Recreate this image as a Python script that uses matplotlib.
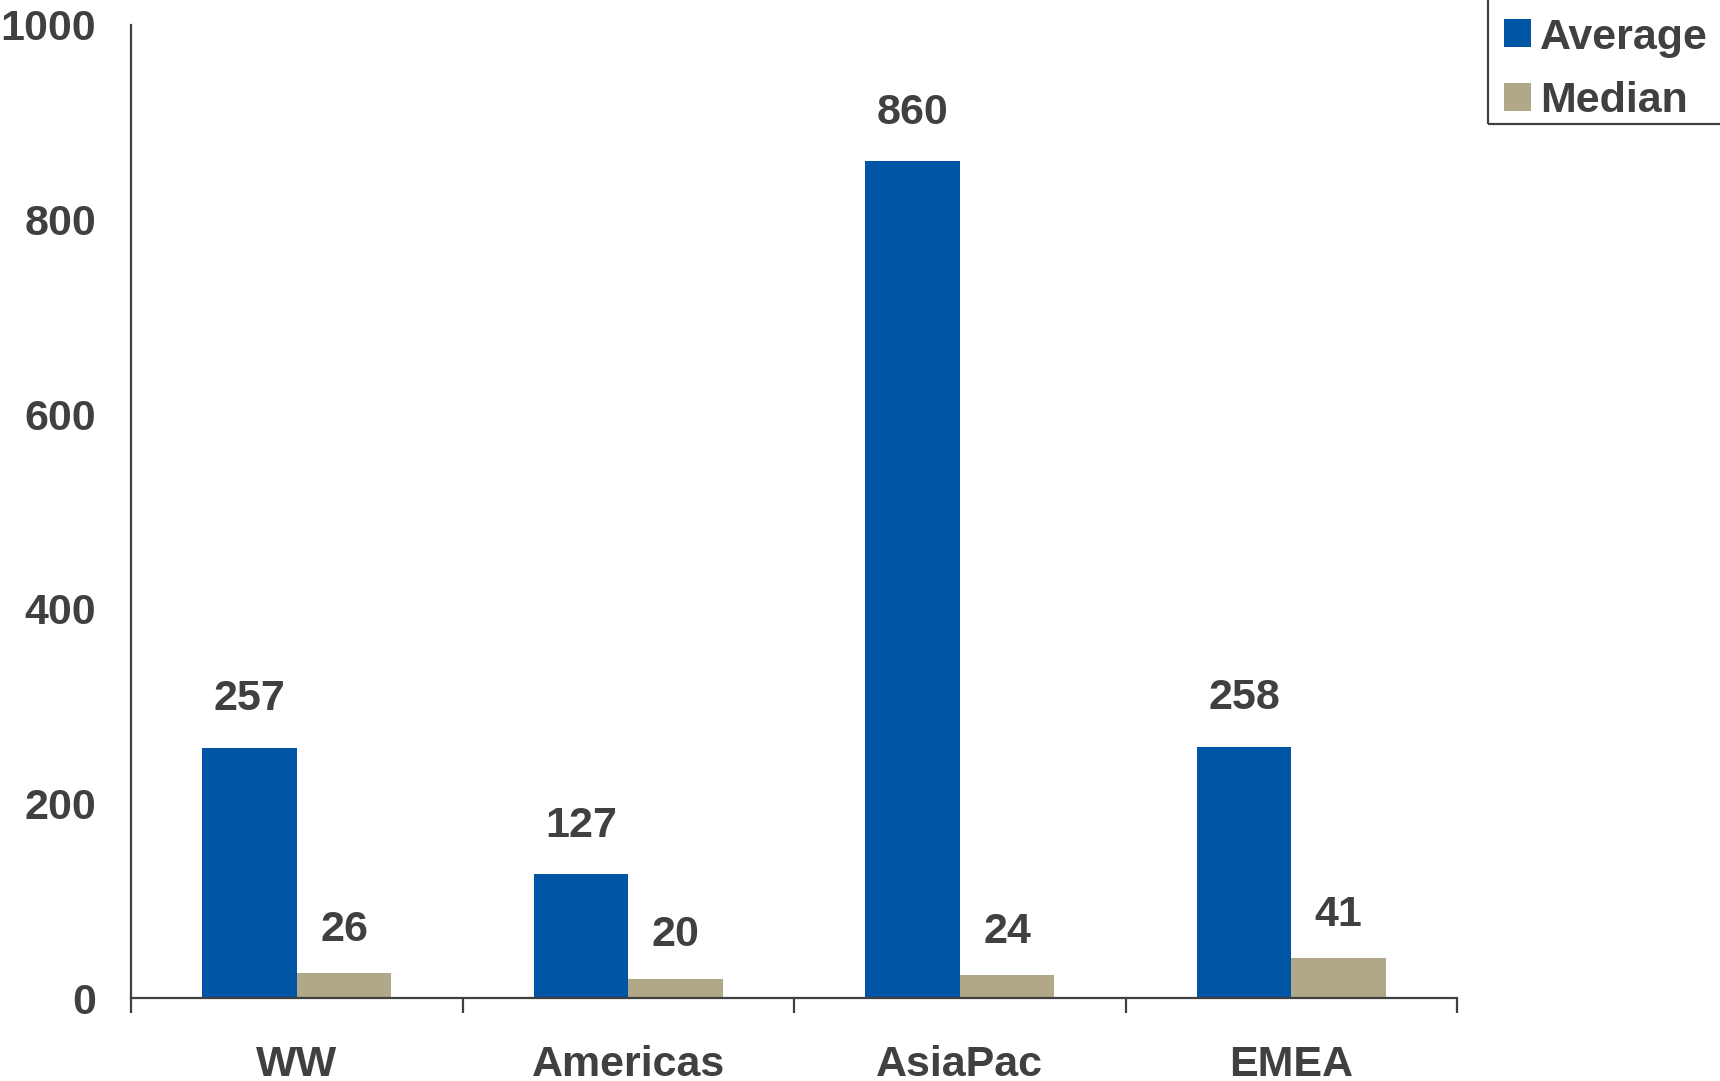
import numpy as np
import matplotlib.pyplot as plt
from matplotlib.patches import Rectangle
from matplotlib.ticker import FixedLocator

plt.rcParams['font.family'] = 'Liberation Sans'
plt.rcParams['font.weight'] = 'bold'

regions = ["WW", "Americas", "AsiaPac", "EMEA"]
average = [257, 127, 860, 258]
median = [26, 20, 24, 41]

blue = "#0055A5"
tan = "#B1A889"
dark = "#404040"
W, H = 1720, 1081

fig = plt.figure(figsize=(W / 100, H / 100), dpi=100)
ax = fig.add_axes([131 / W, 1 - 998 / H, (1457 - 131) / W, (998 - 25) / H])

x = np.arange(len(regions))
bw = 0.285
b1 = ax.bar(x - bw / 2, average, bw, color=blue, label="Average")
b2 = ax.bar(x + bw / 2, median, bw, color=tan, label="Median")

for bars, vals, off in ((b1, average, 35), (b2, median, 31)):
    for r, v in zip(bars, vals):
        ax.annotate(f"{v}", (r.get_x() + r.get_width() / 2, v),
                    xytext=(0, off), textcoords="offset points",
                    ha="center", va="center", fontsize=31,
                    fontweight="bold", color=dark)

ax.set_xlim(-0.5, len(regions) - 0.5)
ax.set_ylim(0, 1000)
ax.set_yticks(np.arange(0, 1001, 200))
ax.set_xticks(x)
ax.set_xticklabels(regions)
ax.xaxis.set_minor_locator(FixedLocator(np.arange(-0.5, len(regions), 1)))

ax.tick_params(axis="x", which="major", length=0, pad=34, labelsize=31,
               labelcolor=dark)
ax.tick_params(axis="x", which="minor", length=11, width=1.6, color=dark,
               direction="out")
ax.tick_params(axis="y", length=0, pad=25, labelsize=31, labelcolor=dark)
for lab in ax.get_xticklabels() + ax.get_yticklabels():
    lab.set_fontweight("bold")

for s in ("top", "right"):
    ax.spines[s].set_visible(False)
for s in ("left", "bottom"):
    ax.spines[s].set_color(dark)
    ax.spines[s].set_linewidth(1.6)

# legend box runs off the top-right corner of the figure
fig.patches.append(Rectangle((1488 / W, 1 - 124 / H), 0.3, 0.3,
                             transform=fig.transFigure, fill=False,
                             edgecolor=dark, linewidth=1.6))
fig.legend(handles=[b1, b2], loc="upper left",
           bbox_to_anchor=(1482 / W, 1 + 4 / H), frameon=False,
           handlelength=0.63, handleheight=0.63,
           handletextpad=0.22, labelspacing=0.55, borderpad=0,
           labelcolor=dark, prop={"weight": "bold", "size": 31})

fig.savefig("out.png", dpi=100)
